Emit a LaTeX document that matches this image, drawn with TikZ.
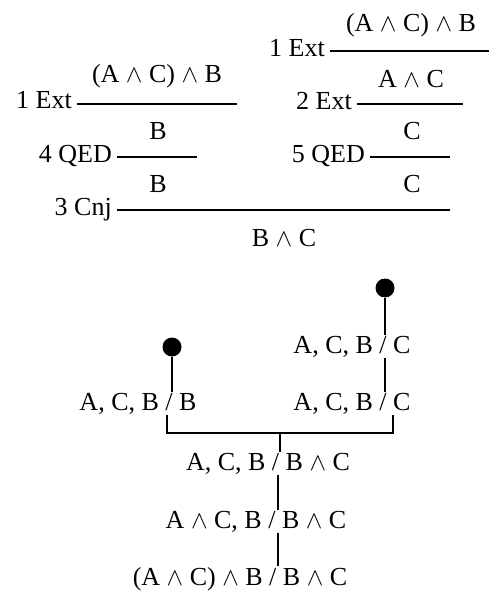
\documentclass[tikz,border=0pt]{standalone}
\usepackage{fontspec}
\setmainfont{Liberation Serif}
\newcommand{\wg}{\ensuremath{\wedge}}
\begin{document}
\begin{tikzpicture}[x=1pt,y=-1pt,
  txt/.style={font=\fontsize{26}{30}\selectfont, inner sep=0pt},
  fml/.style={txt, anchor=base},
  rulename/.style={txt, anchor=base east},
  rul/.style={line width=1.6pt},
  conn/.style={line width=1.3pt},
  dotn/.style={circle, fill=black, inner sep=0pt, minimum size=19pt},
  tlab/.style={txt, anchor=base, inner sep=0.5pt}]
\useasboundingbox (0,0) rectangle (489,593);
% ---- right proof ----
\node[fml] (fR1) at (411,32) {(A \wg{} C) \wg{} B};
\coordinate (r1a) at (330,51); \coordinate (r1b) at (489,51);
\draw[rul] (r1a) -- (r1b);
\node[rulename] (nR1) at (325,57) {1 Ext};
\node[fml] (fR2) at (411,88) {A \wg{} C};
\coordinate (r2a) at (357,104); \coordinate (r2b) at (463,104);
\draw[rul] (r2a) -- (r2b);
\node[rulename] (nR2) at (352,110) {2 Ext};
\node[fml] (fR3) at (412,140) {C};
\coordinate (r3a) at (370,157); \coordinate (r3b) at (450,157);
\draw[rul] (r3a) -- (r3b);
\node[rulename] (nR3) at (365,163) {5 QED};
\node[fml] (fR4) at (412,193) {C};
% ---- left proof ----
\node[fml] (fL1) at (157,83) {(A \wg{} C) \wg{} B};
\coordinate (l1a) at (77,104); \coordinate (l1b) at (237,104);
\draw[rul] (l1a) -- (l1b);
\node[rulename] (nL1) at (72,109) {1 Ext};
\node[fml] (fL2) at (158,140) {B};
\coordinate (l2a) at (117,157); \coordinate (l2b) at (197,157);
\draw[rul] (l2a) -- (l2b);
\node[rulename] (nL2) at (112,163) {4 QED};
\node[fml] (fL3) at (158,193) {B};
% ---- conjunction ----
\coordinate (ca) at (117,210); \coordinate (cb) at (450,210);
\draw[rul] (ca) -- (cb);
\node[rulename] (nC) at (112,216) {3 Cnj};
\node[fml] (fC) at (284,247) {B \wg{} C};
% ---- tree ----
\node[dotn] (dR) at (385,288) {};
\node[dotn] (dL) at (172,347) {};
\node[tlab] (tR1) at (352,353) {A, C, B / C};
\node[tlab] (tR2) at (352,410) {A, C, B / C};
\node[tlab] (tL) at (138,410) {A, C, B / B};
\node[tlab] (tM1) at (268,470) {A, C, B / B \wg{} C};
\node[tlab] (tM2) at (256,528) {A \wg{} C, B / B \wg{} C};
\node[tlab] (tM3) at (240,585) {(A \wg{} C) \wg{} B / B \wg{} C};
\coordinate (bl) at (167,433);
\coordinate (br) at (393,433);
\coordinate (bj) at (280,433);
\coordinate (ax) at (278,470);
\draw[conn] (dR) -- (dR |- tR1.north);
\draw[conn] (dR |- tR1.south) -- (dR |- tR2.north);
\draw[conn] (dL) -- (dL |- tL.north);
\draw[conn] (bl |- tL.south) -- (bl) -- (br) -- (br |- tR2.south);
\draw[conn] (bj) -- (bj |- tM1.north);
\draw[conn] (ax |- tM1.south) -- (ax |- tM2.north);
\draw[conn] (ax |- tM2.south) -- (ax |- tM3.north);
\end{tikzpicture}
\end{document}
